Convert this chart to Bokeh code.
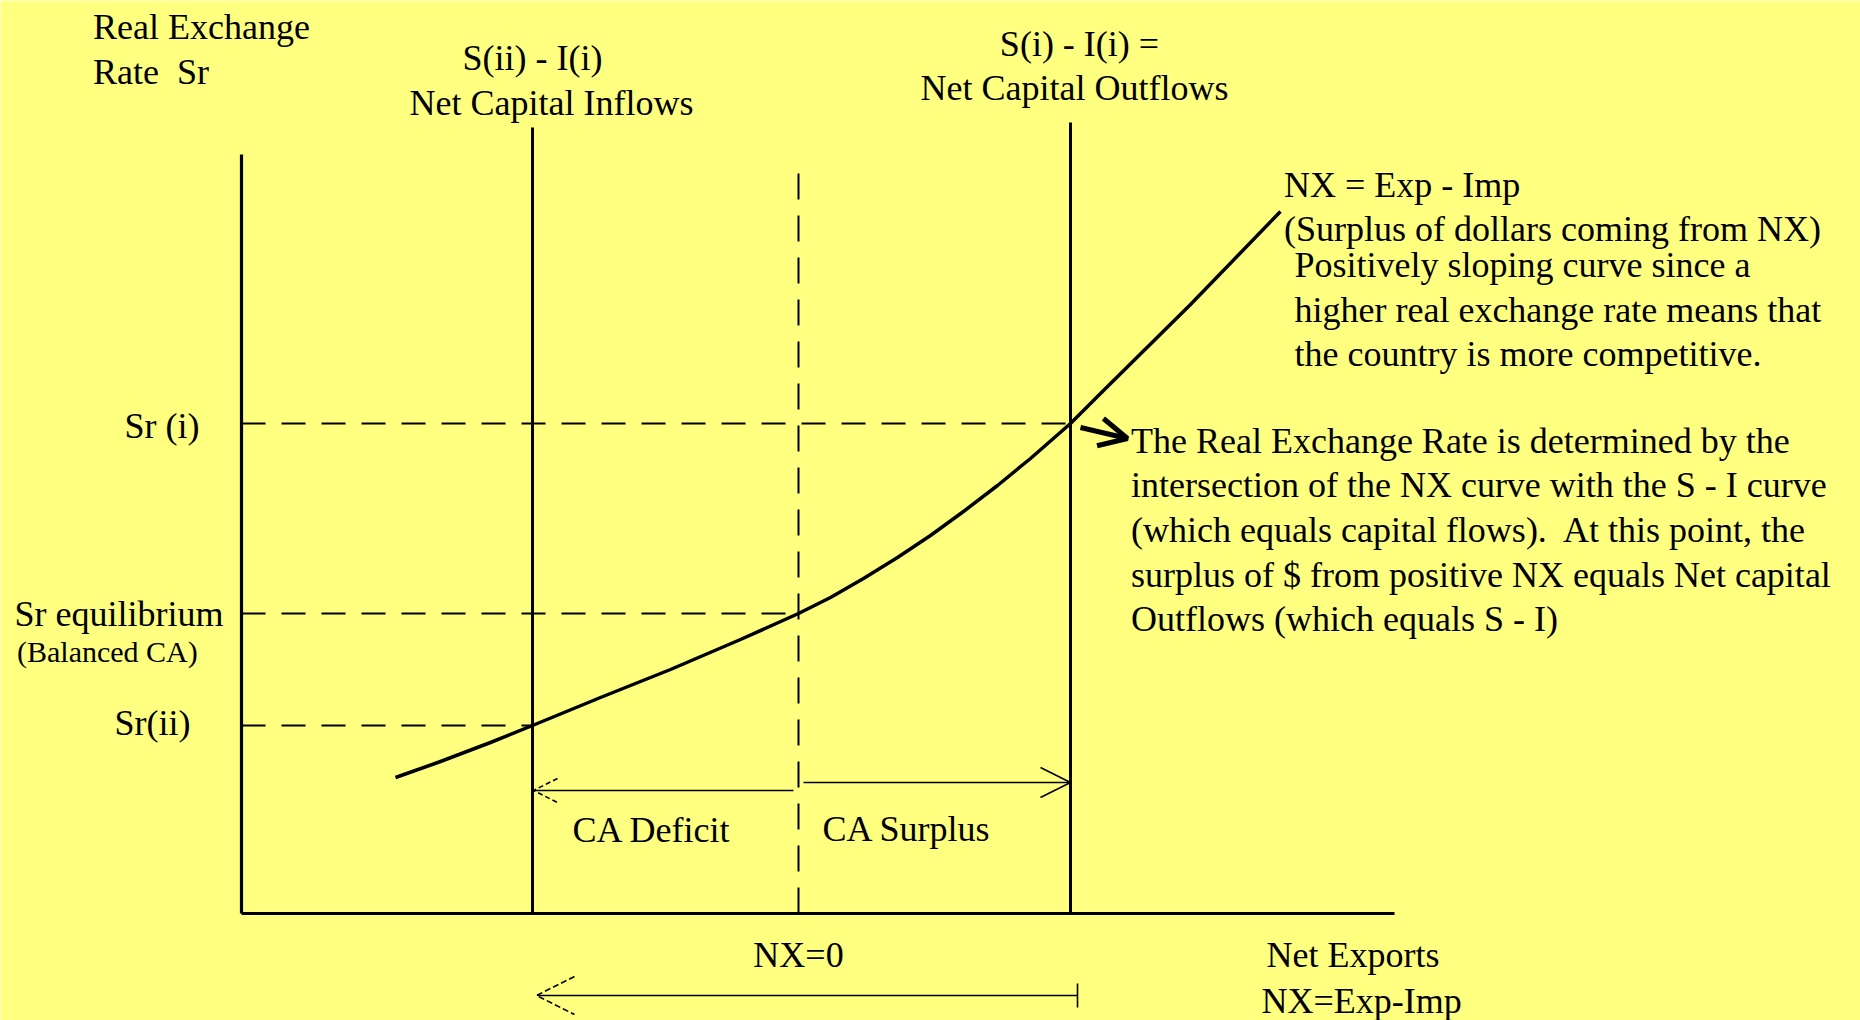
from bokeh.plotting import figure
from bokeh.models import ColumnDataSource, Range1d, Arrow, OpenHead, TeeHead
from bokeh.core.properties import value
from bokeh.embed import file_html
from bokeh.resources import INLINE

BG = "#FFFF80"
FONT = "Liberation Serif"
INK = "#000000"

# ---- data (NX on the horizontal axis, real exchange rate Sr vertical) ----
nx_x = [154, 199, 249, 291, 359, 429, 499, 557, 589, 622, 656, 689, 722, 756, 789, 829, 859, 949, 1039]
nx_y = [136, 152, 171, 188, 216, 244, 274, 300, 316, 335, 356, 378, 402, 428, 455, 490, 520, 609, 702]

axis_x_end = 1153
axis_y_top = 759

capital_flow_x = [291, 829]          # S(ii)-I(i) inflows, S(i)-I(i) outflows
capital_flow_top = [786, 791]
nx_zero_x = 557
nx_zero_top = 741

sr_labels = ["Sr (i)", "Sr equilibrium", "Sr(ii)"]
sr_levels = [490, 300, 188]
sr_reach = [829, 557, 291]

# arrows: (x_start, y_start, x_end, y_end)
ca_deficit_arrow = (552, 123, 292, 123)
ca_surplus_arrow = (562, 131, 829, 131)
shift_arrow = (836, -82, 295, -82)
pointer_arrow = (839, 486, 886, 475)

flow_titles = ["S(ii) - I(i)", "S(i) - I(i) ="]
flow_subtitles = ["Net Capital Inflows", "Net Capital Outflows"]
y_title = ["Real Exchange", "Rate\u00a0 Sr"]
x_title = ["Net Exports", "NX=Exp-Imp"]
nx_note = ["NX = Exp - Imp", "(Surplus of dollars coming from NX)"]
slope_note = ["Positively sloping curve since a",
              "higher real exchange rate means that",
              "the country is more competitive."]
eq_note = ["The Real Exchange Rate is determined by the",
           "intersection of the NX curve with the S - I curve",
           "(which equals capital flows).\u00a0 At this point, the",
           "surplus of $ from positive NX equals Net capital",
           "Outflows (which equals S - I)"]
ca_labels = ["CA Deficit", "CA Surplus"]

p = figure(width=1860, height=1020,
           x_range=Range1d(-241, 1619), y_range=Range1d(-107, 913),
           output_backend="svg", toolbar_location=None,
           x_axis_location=None, y_axis_location=None,
           min_border=0, background_fill_color=BG, border_fill_color=BG)
p.grid.visible = False
p.outline_line_color = None

# axes
p.segment(x0=[0, 0], y0=[0, 0], x1=[axis_x_end, 0], y1=[0, axis_y_top],
          line_color=INK, line_width=3.2)
# capital flow verticals
p.segment(x0=capital_flow_x, y0=[0, 0], x1=capital_flow_x, y1=capital_flow_top,
          line_color=INK, line_width=3)
# NX = 0 dashed
p.segment(x0=[nx_zero_x], y0=[0], x1=[nx_zero_x], y1=[nx_zero_top],
          line_color=INK, line_width=2, line_dash="26 16")
# Sr guides
p.segment(x0=[0] * len(sr_levels), y0=sr_levels, x1=sr_reach, y1=sr_levels,
          line_color=INK, line_width=2, line_dash="24 16")
# NX curve
p.line(nx_x, nx_y, line_color=INK, line_width=3.5, line_join="round")

# arrows
def add_arrow(spec, end, start=None, lw=1.6):
    x0, y0, x1, y1 = spec
    p.add_layout(Arrow(x_start=x0, y_start=y0, x_end=x1, y_end=y1,
                       line_color=INK, line_width=lw, end=end, start=start))

add_arrow(ca_deficit_arrow, OpenHead(size=24, line_width=1.6, line_dash="5 3", line_color=INK))
add_arrow(ca_surplus_arrow, OpenHead(size=30, line_width=1.6, line_color=INK))
add_arrow(shift_arrow, OpenHead(size=38, line_width=1.6, line_dash="6 3", line_color=INK),
          start=TeeHead(size=24, line_width=1.6, line_color=INK))
add_arrow(pointer_arrow, OpenHead(size=28, line_width=5, line_color=INK), lw=5)

def txt(xs, ys, texts, align="left", size="36px"):
    src = ColumnDataSource(dict(x=xs, y=ys, t=texts))
    p.text(x="x", y="y", text="t", source=src, text_align=align,
           text_baseline="middle", text_color=INK,
           text_font=value(FONT), text_font_size=value(size))

# titles
txt([-148.5, -148.5], [887, 842], y_title)
txt([capital_flow_x[0], capital_flow_x[0] + 19], [856, 811], [flow_titles[0], flow_subtitles[0]], align="center")
txt([capital_flow_x[1] + 9, capital_flow_x[1] + 4], [870, 826], [flow_titles[1], flow_subtitles[1]], align="center")
txt([1042.5, 1042.5], [729, 685], nx_note)
txt([1053] * 3, [648.5, 603.5, 559.5], slope_note)
txt([889.5] * 5, [473, 429, 384, 339, 295], eq_note)

# Sr level labels
txt([-42, -51], [sr_levels[0] - 2, sr_levels[2] + 3], [sr_labels[0], sr_labels[2]], align="right")
txt([-227], [sr_levels[1]], [sr_labels[1]])
txt([-224.5], [262], ["(Balanced CA)"], size="30px")

# CA labels and x titles
txt([331, 581], [84, 85], ca_labels)
txt([nx_zero_x], [-41], ["NX=0"], align="center")
txt([1025, 1020], [-41, -87], x_title)

html = file_html(p, INLINE)
html = html.replace("<body>", '<body style="background-color:%s;">' % BG, 1)
open("out.html", "w").write(html)
